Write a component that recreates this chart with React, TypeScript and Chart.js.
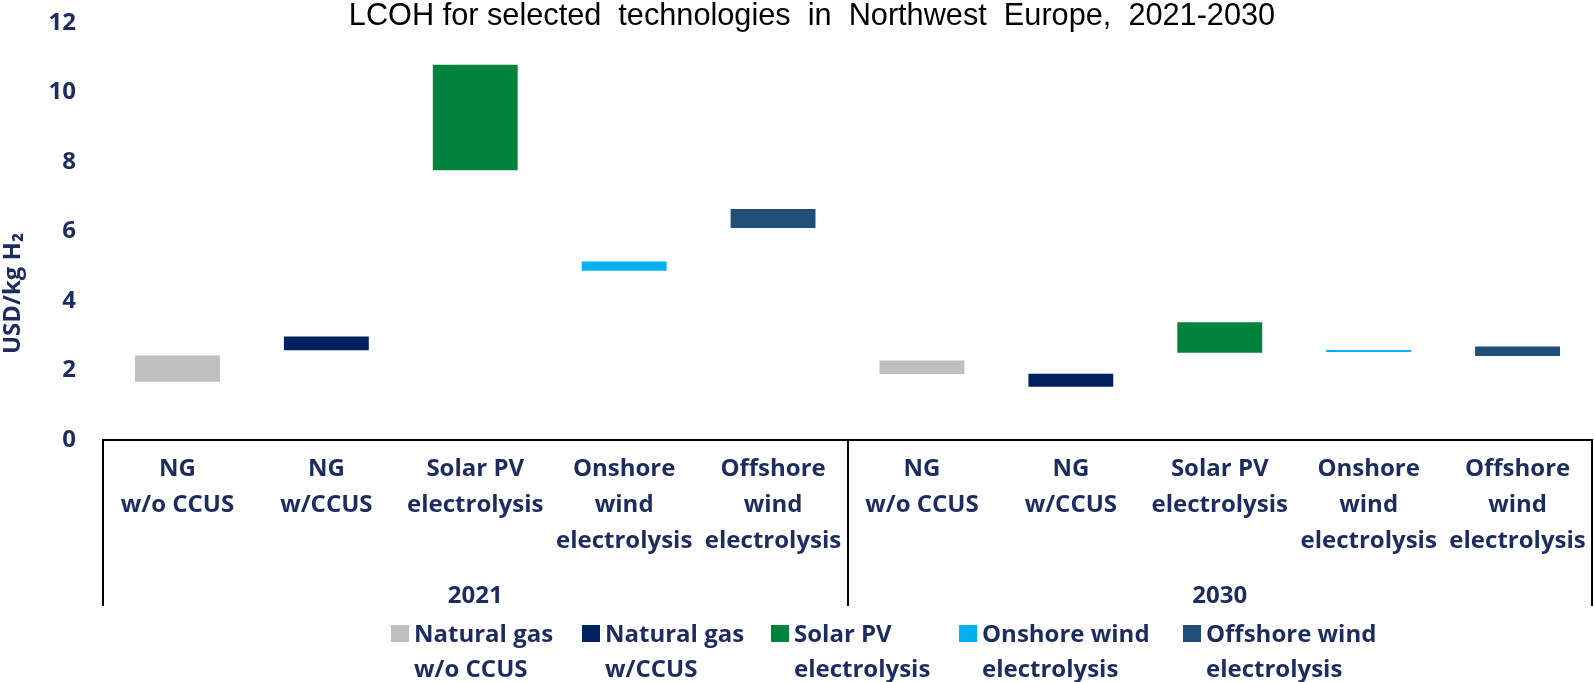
import React, { useEffect, useRef } from 'react';
import { Chart, registerables } from 'chart.js';

Chart.register(...registerables);

// ---------- data ----------
const categoryLabels: string[][] = [
  ['NG', 'w/o CCUS'],
  ['NG', 'w/CCUS'],
  ['Solar PV', 'electrolysis'],
  ['Onshore', 'wind', 'electrolysis'],
  ['Offshore', 'wind', 'electrolysis'],
  ['NG', 'w/o CCUS'],
  ['NG', 'w/CCUS'],
  ['Solar PV', 'electrolysis'],
  ['Onshore', 'wind', 'electrolysis'],
  ['Offshore', 'wind', 'electrolysis'],
];
const yearLabels = ['2021', '2030'];
const legendLabels: string[][] = [
  ['Natural gas', 'w/o CCUS'],
  ['Natural gas', 'w/CCUS'],
  ['Solar PV', 'electrolysis'],
  ['Onshore wind', 'electrolysis'],
  ['Offshore wind', 'electrolysis'],
];
// LCOH ranges, USD/kg H2 (low / high), per technology
const low2021 = [1.68, 2.58, 7.76, 4.87, 6.1];
const high2021 = [2.43, 2.98, 10.8, 5.14, 6.65];
const low2030 = [1.9, 1.53, 2.51, 2.53, 2.42];
const high2030 = [2.29, 1.91, 3.39, 2.59, 2.69];
const yTicks = [0, 2, 4, 6, 8, 10, 12];

const titleText = 'LCOH for selected  technologies  in  Northwest  Europe,  2021-2030';
const yTitleText = 'USD/kg H\u2082';

// ---------- styles ----------
const colors = ['#BFBFBF', '#002060', '#00843D', '#00B0F0', '#1F4E79'];
const navy = '#1c2c5e';
const labelFont = 'Open Sans';
const legendLeft = [391, 582, 771, 959, 1183];

const yTitlePlugin = {
  id: 'yTitleCustom',
  afterDraw(chart: any) {
    const { ctx, chartArea } = chart;
    ctx.save();
    ctx.translate(13, (chartArea.top + chartArea.bottom) / 2 + 62);
    ctx.rotate(-Math.PI / 2);
    ctx.font = `bold 24px "${labelFont}"`;
    ctx.fillStyle = navy;
    ctx.textAlign = 'center';
    ctx.textBaseline = 'middle';
    ctx.fillText(yTitleText, 0, 0);
    ctx.restore();
  },
};

export default function App() {
  const canvasRef = useRef<HTMLCanvasElement | null>(null);

  useEffect(() => {
    if (!canvasRef.current) return;
    const datasets = legendLabels.map((lab, i) => ({
      label: lab.join(' '),
      data: categoryLabels.map((_, c) => {
        const y = Math.floor(c / 5);
        const k = c % 5;
        if (k !== i) return null;
        return y === 0 ? [low2021[i], high2021[i]] : [low2030[i], high2030[i]];
      }),
      backgroundColor: colors[i],
      borderWidth: 0,
      grouped: false,
      barPercentage: 0.57,
      categoryPercentage: 1,
    }));

    const chart = new Chart(canvasRef.current, {
      type: 'bar',
      data: { labels: categoryLabels, datasets: datasets as any },
      options: {
        responsive: false,
        animation: false,
        layout: { padding: { left: 32, right: 2, top: 0, bottom: 74 } },
        plugins: {
          legend: { display: false },
          tooltip: { enabled: false },
          title: {
            display: true,
            text: titleText,
            color: '#000000',
            font: { family: 'Liberation Sans', size: 30.7, weight: 'normal', lineHeight: 1.2 },
            padding: { top: -2, bottom: -11.8 },
          },
        },
        scales: {
          x: {
            type: 'category',
            position: 'bottom',
            weight: 0,
            offset: true,
            grid: {
              offset: true,
              drawOnChartArea: false,
              drawTicks: true,
              tickLength: 166,
              lineWidth: 2,
              color: (ctx: any) =>
                ctx.type === 'scale' || ctx.index === undefined || ctx.index % 5 === 0
                  ? '#000000'
                  : 'rgba(0,0,0,0)',
            },
            border: { display: true, color: '#000000', width: 2 },
            ticks: {
              autoSkip: false,
              maxRotation: 0,
              minRotation: 0,
              padding: -155,
              color: navy,
              font: { family: labelFont, size: 24, weight: 'bold', lineHeight: 1.5 },
            },
            afterFit: (s: any) => {
              s.height = 128;
            },
          },
          x2: {
            type: 'category',
            axis: 'x',
            position: 'bottom',
            weight: 1,
            labels: yearLabels,
            offset: true,
            grid: { display: false },
            border: { display: false },
            ticks: {
              padding: 2,
              color: navy,
              font: { family: labelFont, size: 24, weight: 'bold', lineHeight: 1.5 },
            },
            afterFit: (s: any) => {
              s.height = 40;
            },
          },
          y: {
            min: yTicks[0],
            max: yTicks[yTicks.length - 1],
            afterBuildTicks: (s: any) => {
              s.ticks = yTicks.map((v) => ({ value: v }));
            },
            grid: {
              drawOnChartArea: false,
              drawTicks: true,
              tickLength: 27,
              tickColor: 'rgba(0,0,0,0)',
            },
            border: { display: false },
            ticks: {
              padding: 0,
              color: navy,
              font: { family: labelFont, size: 24, weight: 'bold', lineHeight: 1.2 },
            },
            afterFit: (s: any) => {
              s.width = 71;
            },
          },
        } as any,
      },
      plugins: [yTitlePlugin],
    });
    return () => chart.destroy();
  }, []);

  return (
    <div
      style={{
        position: 'fixed',
        left: 0,
        top: 0,
        width: 1594,
        height: 682,
        background: '#ffffff',
        overflow: 'hidden',
      }}
    >
      <canvas ref={canvasRef} width={1594} height={682} style={{ display: 'block' }} />
      {legendLabels.map((lab, i) => (
        <div
          key={i}
          style={{
            position: 'absolute',
            left: legendLeft[i],
            top: 615,
            display: 'flex',
            alignItems: 'flex-start',
          }}
        >
          <div
            style={{
              width: 18,
              height: 17,
              marginTop: 10,
              marginRight: 5,
              background: colors[i],
              flex: 'none',
            }}
          />
          <div
            style={{
              fontFamily: `"${labelFont}"`,
              fontWeight: 700,
              fontSize: 24,
              lineHeight: '35px',
              color: navy,
              whiteSpace: 'nowrap',
            }}
          >
            {lab.map((line, j) => (
              <div key={j}>{line}</div>
            ))}
          </div>
        </div>
      ))}
    </div>
  );
}
